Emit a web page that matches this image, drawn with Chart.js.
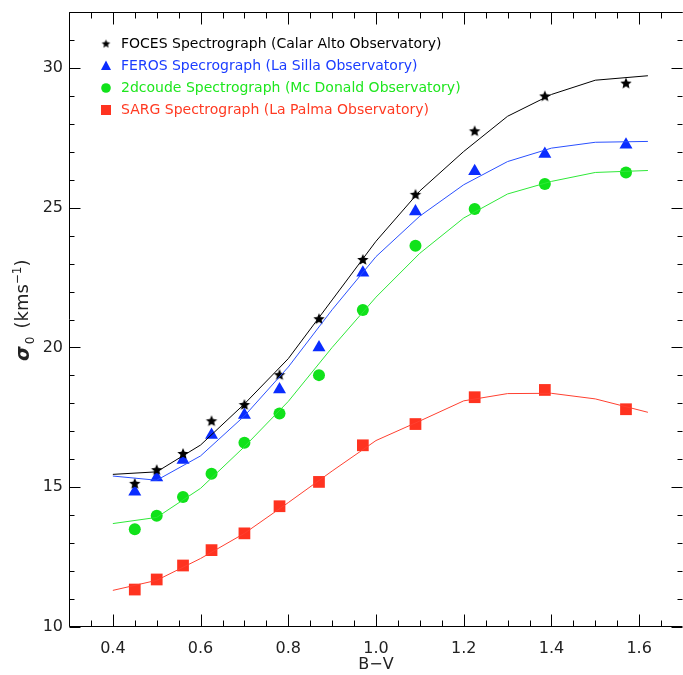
<!DOCTYPE html>
<html>
<head>
<meta charset="utf-8">
<script src="https://cdn.jsdelivr.net/npm/chart.js@4.4.0/dist/chart.umd.min.js"></script>
<style>
html, body { margin: 0; padding: 0; background: #fff; overflow: hidden; }
</style>
</head>
<body>
<canvas id="grafico" width="683" height="675"></canvas>
<script>
// valores observados (B-V, sigma0)
const bvObs = [0.45, 0.50, 0.56, 0.625, 0.70, 0.78, 0.87, 0.97, 1.09, 1.225, 1.385, 1.57];
const foces = [15.12, 15.61, 16.19, 17.36, 17.94, 19.01, 21.01, 23.13, 25.46, 27.73, 28.98, 29.44];
const feros = [14.84, 15.35, 15.97, 16.87, 17.58, 18.50, 20.00, 22.67, 24.86, 26.30, 26.92, 27.25];
const coude = [13.50, 13.98, 14.65, 15.48, 16.59, 17.64, 19.01, 21.34, 23.64, 24.95, 25.85, 26.26];
const sarg  = [11.34, 11.70, 12.20, 12.75, 13.35, 14.32, 15.19, 16.50, 17.26, 18.22, 18.48, 17.79];

// curvas de ajuste
const bvFit    = [0.4, 0.5, 0.6, 0.7, 0.8, 0.9, 1.0, 1.1, 1.2, 1.3, 1.4, 1.5, 1.62];
const focesFit = [15.46, 15.55, 16.51, 17.98, 19.60, 21.70, 23.80, 25.60, 27.01, 28.27, 29.05, 29.56, 29.72];
const ferosFit = [15.40, 15.25, 16.12, 17.55, 19.30, 21.35, 23.25, 24.70, 25.82, 26.65, 27.13, 27.34, 27.37];
const coudeFit = [13.70, 13.92, 14.96, 16.45, 18.07, 20.00, 21.80, 23.37, 24.63, 25.49, 25.94, 26.26, 26.33];
const sargFit  = [11.31, 11.67, 12.45, 13.35, 14.45, 15.58, 16.67, 17.37, 18.09, 18.35, 18.36, 18.16, 17.68];

const nombres = [
    'FOCES Spectrograph (Calar Alto Observatory)',
    'FEROS Specrograph (La Silla Observatory)',
    '2dcoude Spectrograph (Mc Donald Observatory)',
    'SARG Spectrograph (La Palma Observatory)'
];
const xLabels = ['0.4', '0.6', '0.8', '1.0', '1.2', '1.4', '1.6'];
const yLabels = ['10', '15', '20', '25', '30'];

const FUENTE = 'DejaVu Sans';
const NEGRO = '#000000', AZUL = '#0a2cff', VERDE = '#10e21a', ROJO = '#ff3320';

function puntos(xs, ys) {
    return xs.map(function (x, i) { return { x: x, y: ys[i] }; });
}

// estrella rellena para FOCES
function estrella(r, color) {
    const c = document.createElement('canvas');
    const s = Math.ceil(r * 2) + 2;
    c.width = s; c.height = s;
    const g = c.getContext('2d');
    g.fillStyle = color;
    g.beginPath();
    for (let i = 0; i < 10; i++) {
        const a = -Math.PI / 2 + i * Math.PI / 5;
        const rr = (i % 2) ? r * 0.45 : r;
        g.lineTo(s / 2 + rr * Math.cos(a), s / 2 + rr * Math.sin(a));
    }
    g.closePath();
    g.fill();
    return c;
}
const imgEstrella = estrella(6, NEGRO);

function linea(data, color) {
    return { data: data, showLine: true, borderColor: color, borderWidth: 1,
             pointRadius: 0, fill: false, tension: 0 };
}
function marcas(data, color, estilo, radio) {
    return { data: data, showLine: false, backgroundColor: color, borderColor: color,
             borderWidth: 0, pointStyle: estilo, pointRadius: radio };
}

var datos = {
    datasets: [
        linea(puntos(bvFit, focesFit), NEGRO),
        linea(puntos(bvFit, ferosFit), '#2a50ff'),
        linea(puntos(bvFit, coudeFit), '#2ee838'),
        linea(puntos(bvFit, sargFit), '#ff4030'),
        marcas(puntos(bvObs, foces), NEGRO, imgEstrella, 6),
        marcas(puntos(bvObs, feros), AZUL, 'triangle', 7.5),
        marcas(puntos(bvObs, coude), VERDE, 'circle', 6),
        marcas(puntos(bvObs, sarg), ROJO, 'rect', 8.3)
    ]
};

// ejes estilo IDL: caja con marcas hacia dentro
const ejesIDL = {
    id: 'ejesIDL',
    afterDraw: function (chart) {
        const ctx = chart.ctx, a = chart.chartArea;
        const sx = chart.scales.x, sy = chart.scales.y;
        const L = Math.round(a.left) + 0.5, B = Math.round(a.bottom) - 0.5;
        const T = Math.round(a.top) + 0.5, R = chart.width - 0.5;
        ctx.save();
        ctx.strokeStyle = '#000';
        ctx.lineWidth = 1;
        ctx.beginPath();
        ctx.moveTo(R, T); ctx.lineTo(L, T); ctx.lineTo(L, B); ctx.lineTo(R, B);
        for (let k = 6; k <= 34; k++) {
            const px = Math.round(sx.getPixelForValue(k / 20)) + 0.5;
            const len = (k % 4 === 0) ? 12 : 6;
            ctx.moveTo(px, B); ctx.lineTo(px, B - len);
            ctx.moveTo(px, T); ctx.lineTo(px, T + len);
        }
        for (let v = 10; v <= 32; v++) {
            const py = Math.round(sy.getPixelForValue(v)) + 0.5;
            const len = (v % 5 === 0) ? 11 : 5;
            ctx.moveTo(L, py); ctx.lineTo(L + len, py);
            ctx.moveTo(R, py); ctx.lineTo(R - len, py);
        }
        ctx.stroke();

        // leyenda
        const filas = [44, 66, 88, 110];
        const colores = [NEGRO, '#1a3cff', '#1ee61e', '#ff3a22'];
        const mx = 106;
        ctx.font = '14px "' + FUENTE + '"';
        ctx.textBaseline = 'middle';
        ctx.textAlign = 'left';
        filas.forEach(function (fy, i) {
            ctx.fillStyle = colores[i];
            ctx.fillText(nombres[i], 121, fy);
        });
        ctx.drawImage(estrella(4.5, NEGRO), mx - 5.5, filas[0] - 5.5);
        ctx.fillStyle = AZUL;
        ctx.beginPath();
        ctx.moveTo(mx, filas[1] - 5.5); ctx.lineTo(mx + 5, filas[1] + 4); ctx.lineTo(mx - 5, filas[1] + 4);
        ctx.closePath(); ctx.fill();
        ctx.fillStyle = VERDE;
        ctx.beginPath(); ctx.arc(mx, filas[2], 4.8, 0, Math.PI * 2); ctx.fill();
        ctx.fillStyle = ROJO;
        ctx.fillRect(mx - 5, filas[3] - 5, 10, 10);

        // titulo eje y: sigma_0 (kms^-1)
        ctx.translate(24, 361);
        ctx.rotate(-Math.PI / 2);
        ctx.fillStyle = '#222';
        ctx.textBaseline = 'middle';
        let rx = 0;
        ctx.font = 'italic bold 19px "' + FUENTE + '"';
        ctx.fillText('σ', rx, 0);
        rx += ctx.measureText('σ').width + 2;
        ctx.font = '12px "' + FUENTE + '"';
        ctx.fillText('0', rx, 7);
        rx += ctx.measureText('0').width + 8;
        ctx.font = '18px "' + FUENTE + '"';
        ctx.fillText('(kms', rx, -1);
        rx += ctx.measureText('(kms').width;
        ctx.font = '12px "' + FUENTE + '"';
        ctx.fillText('−1', rx, -6);
        rx += ctx.measureText('−1').width;
        ctx.font = '18px "' + FUENTE + '"';
        ctx.fillText(')', rx, -1);
        ctx.restore();
    }
};

var opciones = {
    responsive: false,
    animation: false,
    layout: { autoPadding: false, padding: { top: 12, right: 0, bottom: 0, left: 0 } },
    plugins: {
        legend: { display: false },
        tooltip: { enabled: false }
    },
    scales: {
        x: {
            type: 'linear',
            min: 0.3,
            max: 1.7,
            grid: { display: false, drawTicks: false },
            border: { display: false },
            ticks: {
                stepSize: 0.05,
                autoSkip: false,
                maxRotation: 0,
                padding: 12,
                color: '#222',
                font: { family: FUENTE, size: 16 },
                callback: function (v) {
                    const k = Math.round(v * 20);
                    if (k % 4 !== 0) return '';
                    const lab = (k / 20).toFixed(1);
                    return xLabels.indexOf(lab) >= 0 ? lab : '';
                }
            },
            title: {
                display: true,
                text: 'B−V',
                color: '#222',
                font: { family: FUENTE, size: 16 },
                padding: { top: 0, bottom: 1 }
            },
            afterFit: function (s) {
                s.height = 48;
                s.paddingLeft = 0;
                s.paddingRight = 0;
            }
        },
        y: {
            type: 'linear',
            min: 10,
            max: 32,
            grid: { display: false, drawTicks: false },
            border: { display: false },
            ticks: {
                stepSize: 1,
                autoSkip: false,
                padding: 6,
                color: '#222',
                font: { family: FUENTE, size: 16 },
                callback: function (v) {
                    const lab = String(Math.round(v));
                    return yLabels.indexOf(lab) >= 0 ? lab : '';
                }
            },
            afterFit: function (s) {
                s.width = 69;
                s.paddingTop = 0;
                s.paddingBottom = 0;
            }
        }
    }
};

const ctx = document.getElementById('grafico').getContext('2d');
var miGrafico = new Chart(ctx, {
    type: 'scatter',
    data: datos,
    options: opciones,
    plugins: [ejesIDL]
});
</script>
</body>
</html>
